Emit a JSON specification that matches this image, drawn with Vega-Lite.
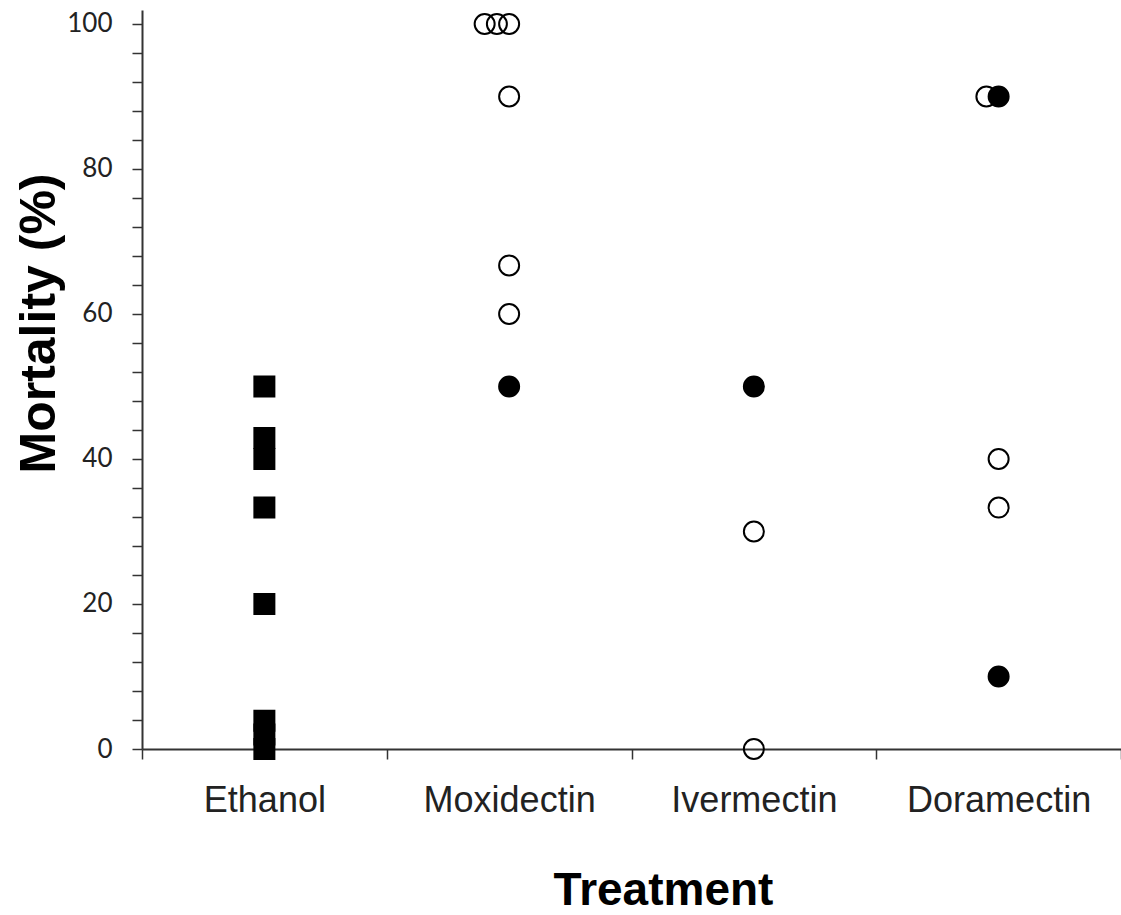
{
  "$schema": "https://vega.github.io/schema/vega-lite/v6.json",
  "autosize": "none",
  "width": 979,
  "height": 739,
  "padding": {"left": 142, "top": 10, "right": 0, "bottom": 166},
  "background": "white",
  "config": {"view": {"stroke": null}},
  "data": {
    "values": [
      {"treatment": "Ethanol", "mortality": 50, "group": "Control", "dup": 0},
      {"treatment": "Ethanol", "mortality": 42.9, "group": "Control", "dup": 0},
      {"treatment": "Ethanol", "mortality": 40, "group": "Control", "dup": 0},
      {"treatment": "Ethanol", "mortality": 33.3, "group": "Control", "dup": 0},
      {"treatment": "Ethanol", "mortality": 20, "group": "Control", "dup": 0},
      {"treatment": "Ethanol", "mortality": 3.9, "group": "Control", "dup": 0},
      {"treatment": "Ethanol", "mortality": 2, "group": "Control", "dup": 0},
      {"treatment": "Ethanol", "mortality": 0, "group": "Control", "dup": 0},
      {"treatment": "Moxidectin", "mortality": 100, "group": "Group 1", "dup": -2},
      {"treatment": "Moxidectin", "mortality": 100, "group": "Group 1", "dup": -1},
      {"treatment": "Moxidectin", "mortality": 100, "group": "Group 1", "dup": 0},
      {"treatment": "Moxidectin", "mortality": 90, "group": "Group 1", "dup": 0},
      {"treatment": "Moxidectin", "mortality": 66.7, "group": "Group 1", "dup": 0},
      {"treatment": "Moxidectin", "mortality": 60, "group": "Group 1", "dup": 0},
      {"treatment": "Moxidectin", "mortality": 50, "group": "Group 2", "dup": 0},
      {"treatment": "Ivermectin", "mortality": 30, "group": "Group 1", "dup": 0},
      {"treatment": "Ivermectin", "mortality": 0, "group": "Group 1", "dup": 0},
      {"treatment": "Ivermectin", "mortality": 50, "group": "Group 2", "dup": 0},
      {"treatment": "Doramectin", "mortality": 90, "group": "Group 1", "dup": -1},
      {"treatment": "Doramectin", "mortality": 40, "group": "Group 1", "dup": 0},
      {"treatment": "Doramectin", "mortality": 33.3, "group": "Group 1", "dup": 0},
      {"treatment": "Doramectin", "mortality": 90, "group": "Group 2", "dup": 0},
      {"treatment": "Doramectin", "mortality": 10, "group": "Group 2", "dup": 0}
    ]
  },
  "mark": {"type": "point", "size": 400, "strokeWidth": 2, "opacity": 1, "stroke": "black", "clip": false},
  "encoding": {
    "x": {
      "field": "treatment",
      "type": "nominal",
      "sort": ["Ethanol", "Moxidectin", "Ivermectin", "Doramectin"],
      "scale": {"paddingInner": 0, "paddingOuter": 0},
      "axis": {
        "title": "Treatment",
        "titleFont": "Liberation Sans",
        "titleFontWeight": "bold",
        "titleFontSize": 46,
        "titleColor": "black",
        "titleX": 521,
        "titleY": 141,
        "titleBaseline": "middle",
        "titleAlign": "center",
        "labelFont": "Liberation Sans",
        "labelFontSize": 36,
        "labelColor": "#222",
        "labelAngle": 0,
        "labelPadding": 24,
        "labelLimit": 400,
        "labelOverlap": false,
        "labelDx": 3,
        "tickBand": "extent",
        "tickSize": 10,
        "tickColor": "#333",
        "tickWidth": 1.5,
        "domainColor": "#333",
        "domainWidth": 2,
        "grid": false
      }
    },
    "xOffset": {
      "field": "dup",
      "type": "quantitative",
      "scale": {"domain": [-10, 10], "range": [0, 244.75]}
    },
    "y": {
      "field": "mortality",
      "type": "quantitative",
      "scale": {"domain": [0, 101.93], "nice": false, "zero": true},
      "axis": {
        "title": "Mortality (%)",
        "titleFont": "Liberation Sans",
        "titleFontWeight": "bold",
        "titleFontSize": 50,
        "titleColor": "black",
        "titleAngle": -90,
        "titleX": -103,
        "titleY": 313,
        "titleAlign": "center",
        "titleBaseline": "middle",
        "values": [0, 4, 8, 12, 16, 20, 24, 28, 32, 36, 40, 44, 48, 52, 56, 60, 64, 68, 72, 76, 80, 84, 88, 92, 96, 100],
        "labelExpr": "datum.value % 20 === 0 ? datum.label : ''",
        "labelFont": "Lato",
        "labelFontSize": 26,
        "labelColor": "#222",
        "labelPadding": 20,
        "labelBaseline": "middle",
        "tickSize": 10,
        "tickColor": "#333",
        "tickWidth": 1.5,
        "domainColor": "#333",
        "domainWidth": 2,
        "grid": false
      }
    },
    "shape": {
      "field": "group",
      "type": "nominal",
      "scale": {"domain": ["Control", "Group 1", "Group 2"], "range": ["square", "circle", "circle"]},
      "legend": null
    },
    "fill": {
      "field": "group",
      "type": "nominal",
      "scale": {"domain": ["Control", "Group 1", "Group 2"], "range": ["black", "transparent", "black"]},
      "legend": null
    },
    "order": {"field": "group", "sort": "ascending"}
  }
}
